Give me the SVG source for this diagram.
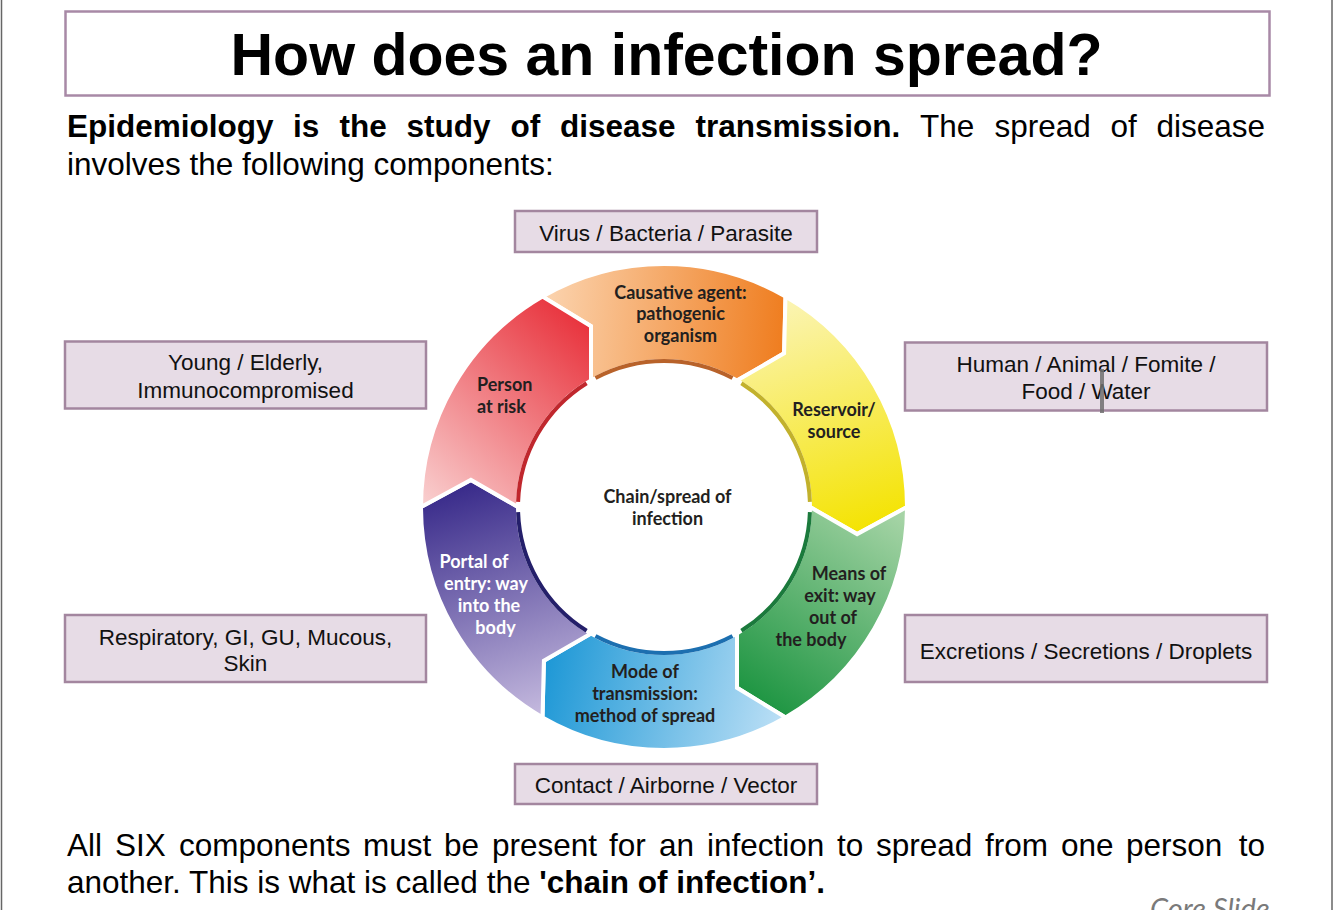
<svg xmlns="http://www.w3.org/2000/svg" width="1334" height="910" viewBox="0 0 1334 910">
<style>
.box{fill:#e7dce6;stroke:#a3869f;stroke-width:2.5}
.bt{font-family:"Liberation Sans",Arial,sans-serif;font-size:22.5px;fill:#111;text-anchor:middle}
.para{font-family:"Liberation Sans",Arial,sans-serif;font-size:31.5px;fill:#000}
.b{font-weight:bold}
.seg{stroke:#fff;stroke-width:4;stroke-linejoin:miter}
.arc{fill:none;stroke-width:4}
.st{font-family:Lato,"Open Sans",sans-serif;font-weight:bold;font-size:18px;fill:#231f20;text-anchor:middle}
</style>
<defs>
<linearGradient id="gO" gradientUnits="userSpaceOnUse" x1="545" y1="310" x2="785" y2="330"><stop offset="0" stop-color="#fbd3ae"/><stop offset="1" stop-color="#ef7d1f"/></linearGradient>
<linearGradient id="gY" gradientUnits="userSpaceOnUse" x1="785" y1="300" x2="860" y2="535"><stop offset="0" stop-color="#fbf4b4"/><stop offset="1" stop-color="#f4e300"/></linearGradient>
<linearGradient id="gG" gradientUnits="userSpaceOnUse" x1="880" y1="500" x2="745" y2="700"><stop offset="0" stop-color="#a6d4a6"/><stop offset="1" stop-color="#1b9440"/></linearGradient>
<linearGradient id="gB" gradientUnits="userSpaceOnUse" x1="785" y1="720" x2="545" y2="665"><stop offset="0" stop-color="#bde0f6"/><stop offset="1" stop-color="#1e98d6"/></linearGradient>
<linearGradient id="gP" gradientUnits="userSpaceOnUse" x1="545" y1="725" x2="470" y2="485"><stop offset="0" stop-color="#cbc0e2"/><stop offset="1" stop-color="#3a2c8b"/></linearGradient>
<linearGradient id="gR" gradientUnits="userSpaceOnUse" x1="425" y1="505" x2="590" y2="320"><stop offset="0" stop-color="#f9cfcf"/><stop offset="1" stop-color="#e8303a"/></linearGradient>
</defs>
<rect width="1334" height="910" fill="#fff"/>
<line x1="1.5" y1="0" x2="1.5" y2="910" stroke="#666" stroke-width="1.5"/>
<line x1="1332" y1="0" x2="1332" y2="910" stroke="#666" stroke-width="1.5"/>

<g id="title">
<rect x="65.5" y="11.5" width="1204" height="84" fill="#fff" stroke="#a889a6" stroke-width="2.5"/>
<text x="666.5" y="75" font-family="Liberation Sans,Arial,sans-serif" font-size="59" font-weight="bold" text-anchor="middle" fill="#000">How does an infection spread?</text>
</g>

<g id="intro" class="para">
<text y="137"><tspan class="b" x="67">Epidemiology</tspan><tspan class="b" x="293">is</tspan><tspan class="b" x="339.5">the</tspan><tspan class="b" x="406.5">study</tspan><tspan class="b" x="510.5">of</tspan><tspan class="b" x="560">disease</tspan><tspan class="b" x="695.5">transmission.</tspan><tspan x="920">The</tspan><tspan x="994.5">spread</tspan><tspan x="1110.5">of</tspan><tspan x="1265" text-anchor="end">disease</tspan></text>
<text x="67" y="175">involves the following components:</text>
</g>

<g id="connectors"></g>

<g id="ring">
<g id="seg-orange">
<path class="seg" fill="url(#gO)" d="M542.5,296.6 A243,243 0 0 1 785.5,296.6 L784.1,353.3 L737,380.6 A146,146 0 0 0 591,380.6 L591,326.2 Z"/>
<path class="arc" stroke="#b8622a" d="M595.5,378.1 A146,146 0 0 1 732.5,378.1"/>
<text class="st"><tspan x="680.5" y="298.5">Causative agent:</tspan><tspan x="680.5" y="320">pathogenic</tspan><tspan x="680.5" y="342">organism</tspan></text>
</g>
<g id="seg-yellow">
<path class="seg" fill="url(#gY)" d="M785.5,296.6 A243,243 0 0 1 907,507 L857.1,534.1 L810,507 A146,146 0 0 0 737,380.6 L784.1,353.3 Z"/>
<path class="arc" stroke="#c2b12c" d="M741.4,383.2 A146,146 0 0 1 809.9,501.9"/>
<text class="st"><tspan x="834" y="416">Reservoir/</tspan><tspan x="834" y="438">source</tspan></text>
</g>
<g id="seg-green">
<path class="seg" fill="url(#gG)" d="M907,507 A243,243 0 0 1 785.5,717.4 L737,687.8 L737,633.4 A146,146 0 0 0 810,507 L857.1,534.1 Z"/>
<path class="arc" stroke="#1b7a3c" d="M809.9,512.1 A146,146 0 0 1 741.4,630.8"/>
<text class="st"><tspan x="849" y="580">Means of</tspan><tspan x="840" y="602">exit: way</tspan><tspan x="833" y="624">out of</tspan><tspan x="811" y="646">the body</tspan></text>
</g>
<g id="seg-blue">
<path class="seg" fill="url(#gB)" d="M785.5,717.4 A243,243 0 0 1 542.5,717.4 L543.9,660.7 L591,633.4 A146,146 0 0 0 737,633.4 L737,687.8 Z"/>
<path class="arc" stroke="#1c6fb0" d="M732.5,635.9 A146,146 0 0 1 595.5,635.9"/>
<text class="st"><tspan x="645" y="677.5">Mode of</tspan><tspan x="645" y="699.5">transmission:</tspan><tspan x="645" y="721.5">method of spread</tspan></text>
</g>
<g id="seg-purple">
<path class="seg" fill="url(#gP)" d="M542.5,717.4 A243,243 0 0 1 421,507 L470.9,479.9 L518,507 A146,146 0 0 0 591,633.4 L543.9,660.7 Z"/>
<path class="arc" stroke="#241f6a" d="M586.6,630.8 A146,146 0 0 1 518.1,512.1"/>
<text class="st" style="fill:#fff"><tspan x="474" y="567.5">Portal of</tspan><tspan x="486" y="589.5">entry: way</tspan><tspan x="489" y="611.5">into the</tspan><tspan x="495.5" y="633.5">body</tspan></text>
</g>
<g id="seg-red">
<path class="seg" fill="url(#gR)" d="M421,507 A243,243 0 0 1 542.5,296.6 L591,326.2 L591,380.6 A146,146 0 0 0 518,507 L470.9,479.9 Z"/>
<path class="arc" stroke="#c0272d" d="M518.1,501.9 A146,146 0 0 1 586.6,383.2"/>
<text class="st" style="text-anchor:start"><tspan x="477" y="391">Person</tspan><tspan x="477" y="412.5">at risk</tspan></text>
</g>
<g id="center">
<text class="st"><tspan x="667.5" y="502.5">Chain/spread of</tspan><tspan x="667.5" y="524.5">infection</tspan></text>
</g>
</g>

<g id="box-agent"><rect class="box" x="515" y="211" width="302" height="41"/><text class="bt" x="666" y="240.5">Virus / Bacteria / Parasite</text></g>
<g id="box-host"><rect class="box" x="65" y="341.5" width="361" height="67"/><text class="bt"><tspan x="245.5" y="370">Young / Elderly,</tspan><tspan x="245.5" y="397.5">Immunocompromised</tspan></text></g>
<g id="box-reservoir"><rect class="box" x="905" y="342.5" width="362" height="68"/><text class="bt"><tspan x="1086" y="372">Human / Animal / Fomite /</tspan><tspan x="1086" y="399">Food / Water</tspan></text></g>
<g id="box-entry"><rect class="box" x="65" y="615" width="361" height="67"/><text class="bt"><tspan x="245.5" y="645">Respiratory, GI, GU, Mucous,</tspan><tspan x="245.5" y="671">Skin</tspan></text></g>
<g id="box-exit"><rect class="box" x="905" y="615" width="362" height="67"/><text class="bt" x="1086" y="659">Excretions / Secretions / Droplets</text></g>
<g id="box-mode"><rect class="box" x="515" y="764" width="302" height="40"/><text class="bt" x="666" y="793">Contact / Airborne / Vector</text></g>

<rect x="1100" y="369" width="4" height="44" fill="#6e6e6e" opacity="0.85"/>

<g id="footer" class="para">
<text y="856"><tspan x="67">All</tspan><tspan x="115">SIX</tspan><tspan x="179">components</tspan><tspan x="363">must</tspan><tspan x="444">be</tspan><tspan x="492">present</tspan><tspan x="609">for</tspan><tspan x="659">an</tspan><tspan x="707">infection</tspan><tspan x="837">to</tspan><tspan x="876">spread</tspan><tspan x="985">from</tspan><tspan x="1061">one</tspan><tspan x="1126">person</tspan><tspan x="1265" text-anchor="end">to</tspan></text>
<text x="67" y="893">another. This is what is called the <tspan class="b">'chain of infection’.</tspan></text>
</g>
<text x="1150" y="919" font-family="Lato,'Open Sans',sans-serif" font-style="italic" font-size="29" fill="#7a7a7a">Core Slide</text>
</svg>
